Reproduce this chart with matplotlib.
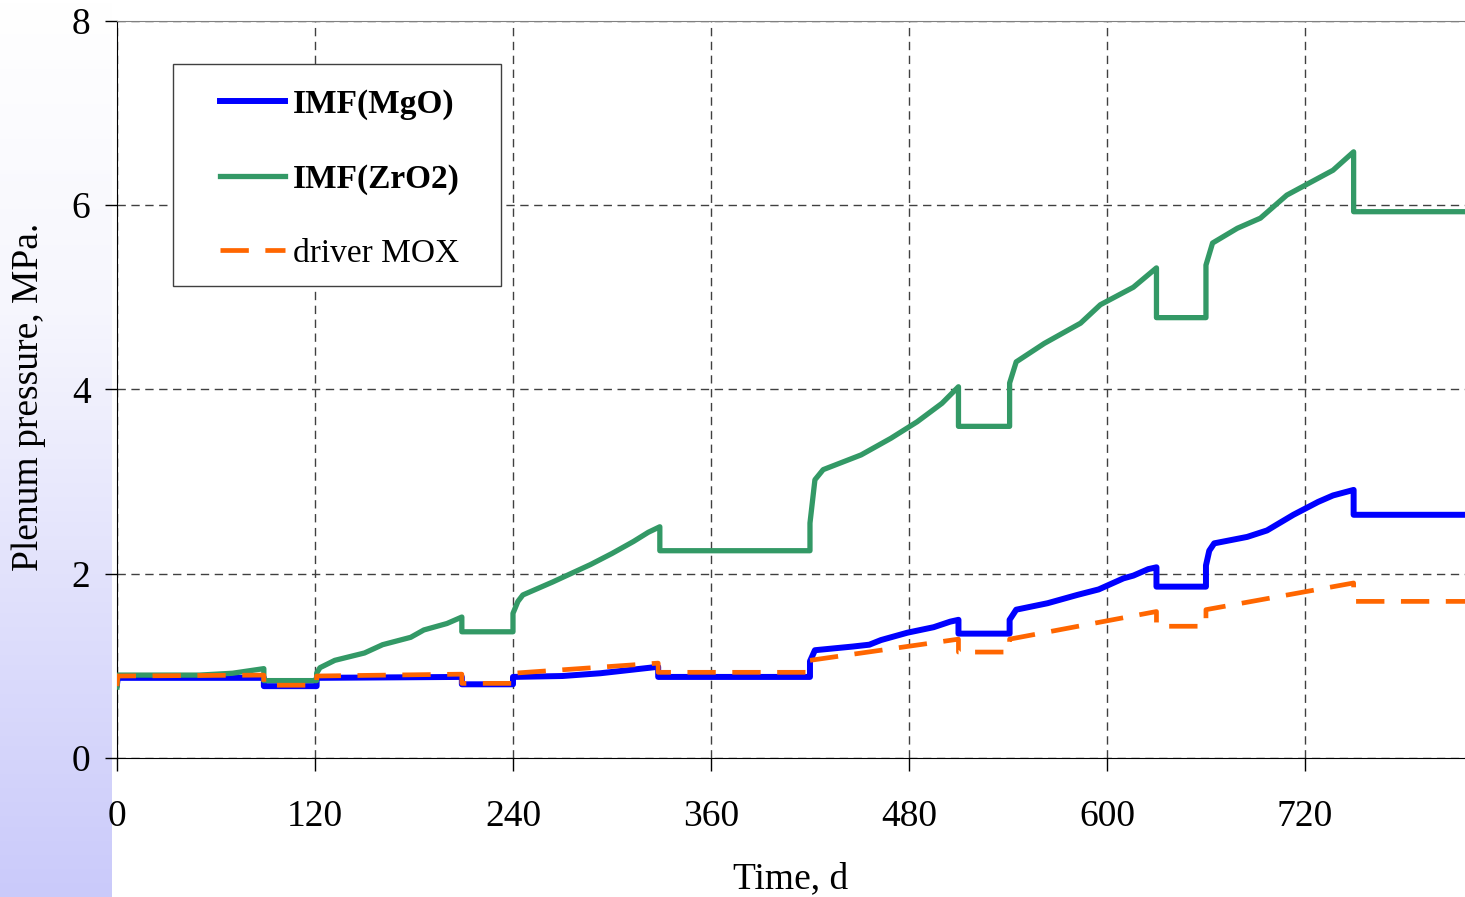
import matplotlib
matplotlib.use("Agg")
import matplotlib.pyplot as plt
import numpy as np
from matplotlib.patches import Rectangle

plt.rcParams['font.family'] = ['Liberation Serif', 'DejaVu Serif']

# datos (tiempo en dias, presion en MPa)
t_mgo = [0, 0.5, 89, 89, 121, 121, 209, 209, 240, 240, 270, 293, 313, 328, 328,
         420, 420, 423, 446, 456, 463, 479, 495, 505, 510, 510, 541, 541, 545,
         564, 582, 595, 610, 616, 625, 630, 630, 660, 660, 662, 665, 685, 697,
         713, 728, 737, 749.5, 749.5, 817]
p_mgo = [0.80, 0.87, 0.87, 0.78, 0.78, 0.87, 0.88, 0.80, 0.80, 0.88, 0.89, 0.92, 0.96, 0.99, 0.88,
         0.88, 1.05, 1.17, 1.21, 1.23, 1.28, 1.36, 1.42, 1.48, 1.50, 1.35, 1.35, 1.50, 1.61,
         1.68, 1.77, 1.83, 1.95, 1.98, 2.05, 2.07, 1.86, 1.86, 2.09, 2.25, 2.33, 2.40, 2.47,
         2.64, 2.78, 2.85, 2.91, 2.64, 2.64]

t_zro2 = [0, 0.5, 1, 50, 70, 89, 89, 121, 121, 123, 132, 150, 161, 178, 186, 200,
          209, 209, 240, 240, 243, 246, 264, 287, 300, 313, 322, 329, 329, 420,
          420, 423, 428, 451, 469, 485, 500, 510, 510, 541, 541, 545, 562, 584,
          596, 616, 630, 630, 660, 660, 664, 679, 693, 709, 737, 749.5, 749.5, 817]
p_zro2 = [0.77, 0.90, 0.90, 0.90, 0.92, 0.97, 0.84, 0.84, 0.92, 0.98, 1.06, 1.14, 1.23, 1.31, 1.39, 1.46,
          1.53, 1.37, 1.37, 1.57, 1.70, 1.77, 1.91, 2.10, 2.22, 2.35, 2.45, 2.51, 2.25, 2.25,
          2.55, 3.02, 3.13, 3.29, 3.47, 3.65, 3.85, 4.03, 3.60, 3.60, 4.07, 4.30, 4.50, 4.72,
          4.92, 5.11, 5.32, 4.78, 4.78, 5.35, 5.59, 5.75, 5.86, 6.11, 6.38, 6.58, 5.93, 5.93]

t_mox = [0, 0.5, 89, 89, 121, 121, 209, 209, 240, 240, 328, 328, 420, 420, 510,
         510, 541, 541, 630, 630, 660, 660, 749.5, 749.5, 817]
p_mox = [0.78, 0.89, 0.90, 0.79, 0.79, 0.89, 0.91, 0.81, 0.81, 0.92, 1.03, 0.93, 0.93, 1.06, 1.29,
         1.15, 1.15, 1.29, 1.59, 1.43, 1.43, 1.61, 1.90, 1.70, 1.70]

etiquetas = ["IMF(MgO)", "IMF(ZrO2)", "driver MOX"]
xticks = [0, 120, 240, 360, 480, 600, 720]
yticks = [0, 2, 4, 6, 8]

W, H = 1465, 897
fig = plt.figure(figsize=(W / 100, H / 100), dpi=100)

# franja lateral con degradado
fondo = fig.add_axes([0, 0, 112 / W, 1], zorder=-5)
yy = np.linspace(0, 1, 256)
r = np.interp(yy, [0, 0.35, 0.7, 1], [255, 246, 222, 202])
b = np.interp(yy, [0, 1], [255, 250])
grad = np.stack([r, r, b], axis=1)[:, None, :] / 255.0
fondo.imshow(grad, aspect='auto', extent=[0, 1, 0, 1])
fondo.axis('off')

ax = fig.add_axes([117 / W, 1 - 758 / H, (W - 117) / W, (758 - 21) / H])
ax.patch.set_alpha(0)

ax.plot(t_mgo, p_mgo, color='#0000FF', lw=4.3, solid_joinstyle='round', label=etiquetas[0], zorder=3)
ax.plot(t_zro2, p_zro2, color='#339966', lw=3.8, solid_joinstyle='round', label=etiquetas[1], zorder=4)
ax.plot(t_mox, p_mox, color='#FF6600', lw=3.4, dashes=(6, 3.5), label=etiquetas[2], zorder=5)

ax.set_xlim(0, 817)
ax.set_ylim(0, 8)
ax.set_xticks(xticks)
ax.set_yticks(yticks)
ax.grid(True, ls=(0, (6, 4)), color='#404040', lw=1)
ax.spines['right'].set_visible(False)
ax.spines['top'].set_color('#808080')
ax.tick_params(axis='both', direction='out', length=9, width=1, labelsize=27)
ax.tick_params(axis='x', pad=21)
ax.tick_params(axis='y', pad=10)

ax.set_xlabel("Time, d", fontsize=27)
ax.set_ylabel("Plenum pressure, MPa.", fontsize=27)
ax.xaxis.set_label_coords(0.5, -0.141)
ax.yaxis.set_label_coords(-0.0525, 0.49)

# caja de la leyenda
ax.add_patch(Rectangle(((173 - 117) / 1348, (758 - 286) / 737), (501 - 173) / 1348, (286 - 64) / 737,
                       transform=ax.transAxes, facecolor='white', edgecolor='#404040', lw=1, zorder=6))
leg = ax.legend(loc='upper left', bbox_to_anchor=((220 - 117) / 1348, (758 - 89) / 737),
                frameon=False, fontsize=24, borderpad=0, borderaxespad=0,
                handlelength=1.95, handletextpad=0.24, labelspacing=1.3)
leg.set_zorder(7)
for txt in leg.get_texts()[:2]:
    txt.set_fontweight('bold')

fig.savefig("out.png", dpi=100)
